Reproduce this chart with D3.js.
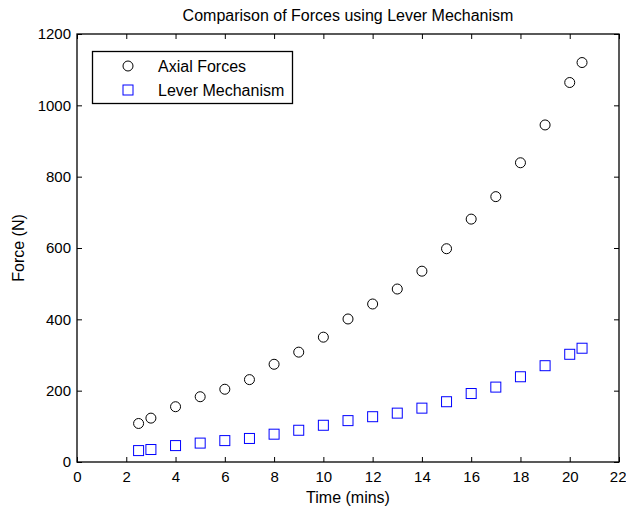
<!DOCTYPE html>
<html><head><meta charset="utf-8">
<script src="https://cdn.jsdelivr.net/npm/d3@7"></script>
<style>body{margin:0;background:#fff}svg{display:block}text{font-family:"Liberation Sans",Arial,sans-serif}</style>
</head><body>
<script>
const times = [2.5,3,4,5,6,7,8,9,10,11,12,13,14,15,16,17,18,19,20,20.5];
const axialForces = [108,123,155,183,204,231,274,308,350,401,443,485,535,598,681,744,839,945,1064,1120];
const leverForces = [32,35,46,53,60,66,78,89,103,116,127,137,151,169,192,210,239,270,302,319];
const xTicks = [0,2,4,6,8,10,12,14,16,18,20,22];
const yTicks = [0,200,400,600,800,1000,1200];
const seriesNames = ["Axial Forces","Lever Mechanism"];

const W=626,H=506;
const m={l:77,t:34,r:619,b:462};
const svg=d3.select("body").append("svg").attr("width",W).attr("height",H);
const x=d3.scaleLinear().domain([0,22]).range([m.l,m.r]);
const y=d3.scaleLinear().domain([0,1200]).range([m.b,m.t]);
const fmt=d3.format("d");

const fs=15;
svg.append("g").attr("transform",`translate(0,${m.b})`)
  .call(d3.axisBottom(x).tickValues(xTicks).tickFormat(fmt).tickSizeInner(-5).tickSizeOuter(0).tickPadding(9))
  .call(g=>g.select(".domain").remove())
  .call(g=>g.selectAll(".tick text").filter(d=>d===22).attr("text-anchor","end").attr("dx","7"));
svg.append("g").attr("transform",`translate(0,${m.t})`)
  .call(d3.axisTop(x).tickValues(xTicks).tickSizeInner(-5).tickSizeOuter(0).tickFormat(""))
  .call(g=>g.select(".domain").remove());
svg.append("g").attr("transform",`translate(${m.l},0)`)
  .call(d3.axisLeft(y).tickValues(yTicks).tickFormat(fmt).tickSizeInner(-5).tickSizeOuter(0).tickPadding(6))
  .call(g=>g.select(".domain").remove());
svg.append("g").attr("transform",`translate(${m.r},0)`)
  .call(d3.axisRight(y).tickValues(yTicks).tickSizeInner(-5).tickSizeOuter(0).tickFormat(""))
  .call(g=>g.select(".domain").remove());
svg.selectAll(".tick text").attr("font-size",fs).attr("fill","#000").attr("font-family","Liberation Sans, Arial, sans-serif");
svg.selectAll(".tick line").attr("stroke","#000");
svg.append("rect").attr("x",m.l).attr("y",m.t).attr("width",m.r-m.l).attr("height",m.b-m.t)
  .attr("fill","none").attr("stroke","#000").attr("stroke-width",1.3);

svg.append("text").attr("x",(m.l+m.r)/2).attr("y",21).attr("text-anchor","middle").attr("font-size",16).text("Comparison of Forces using Lever Mechanism");
svg.append("text").attr("x",(m.l+m.r)/2).attr("y",503).attr("text-anchor","middle").attr("font-size",16).text("Time (mins)");
svg.append("text").attr("transform",`translate(24,${(m.t+m.b)/2}) rotate(-90)`).attr("text-anchor","middle").attr("font-size",16).text("Force (N)");

const r=5;
svg.append("g").selectAll("circle").data(times.map((t,i)=>[t,axialForces[i]])).join("circle")
  .attr("cx",d=>x(d[0])).attr("cy",d=>y(d[1])).attr("r",r)
  .attr("fill","none").attr("stroke","#000").attr("stroke-width",1);
const s=10;
svg.append("g").selectAll("rect").data(times.map((t,i)=>[t,leverForces[i]])).join("rect")
  .attr("x",d=>x(d[0])-s/2).attr("y",d=>y(d[1])-s/2).attr("width",s).attr("height",s)
  .attr("fill","none").attr("stroke","#0000ff").attr("stroke-width",1);

const lg=svg.append("g");
lg.append("rect").attr("x",92.5).attr("y",51.5).attr("width",200).attr("height",52)
  .attr("fill","#fff").attr("stroke","#000").attr("stroke-width",1.3);
lg.append("circle").attr("cx",128).attr("cy",66).attr("r",r).attr("fill","none").attr("stroke","#000");
lg.append("rect").attr("x",128-s/2).attr("y",90-s/2).attr("width",s).attr("height",s).attr("fill","none").attr("stroke","#0000ff");
lg.append("text").attr("x",158).attr("y",72).attr("font-size",16).text(seriesNames[0]);
lg.append("text").attr("x",158).attr("y",96).attr("font-size",16).text(seriesNames[1]);
</script>
</body></html>
